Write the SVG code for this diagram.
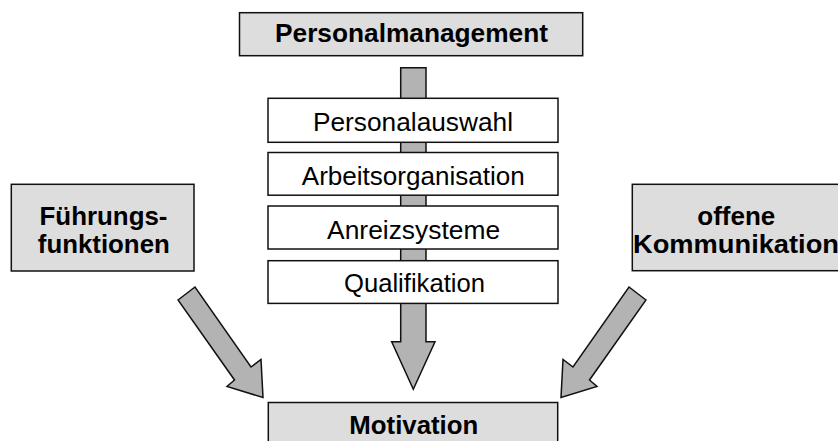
<svg xmlns="http://www.w3.org/2000/svg" width="838" height="441" viewBox="0 0 838 441">
<style>
.gbox{fill:#dddddd;stroke:#111;stroke-width:1.5}
.wbox{fill:#ffffff;stroke:#111;stroke-width:1.5}
.arr{fill:#b3b3b3;stroke:#111;stroke-width:1.5;stroke-linejoin:miter}
text{font-family:"Liberation Sans",Arial,sans-serif;font-size:25px;fill:#000;text-anchor:middle}
.b{font-weight:bold}
</style>
<rect width="838" height="441" fill="#fff"/>
<g id="connectors">
<polygon class="arr" points="400.7,67.7 426,67.7 426,341.7 435,341.7 413.3,389.3 391.7,341.7 400.7,341.7"/>
<polygon class="arr" points="178,300 195,287 251,367 261,359.5 263,397.5 227,386.5 234.5,380"/>
<polygon class="arr" points="646,300 629,287 573,367 563,359.5 561,397.5 597,386.5 589.5,380"/>
</g>
<g id="personalmanagement">
<rect class="gbox" x="239.5" y="12.7" width="343.2" height="43"/>
<text class="b" x="411.5" y="42" textLength="273" lengthAdjust="spacingAndGlyphs">Personalmanagement</text>
</g>
<g id="personalauswahl">
<rect class="wbox" x="268" y="98.3" width="290" height="44"/>
<text x="413" y="130.5" textLength="200" lengthAdjust="spacingAndGlyphs">Personalauswahl</text>
</g>
<g id="arbeitsorganisation">
<rect class="wbox" x="268" y="152.5" width="290" height="42.7"/>
<text x="413.3" y="184.5" textLength="223" lengthAdjust="spacingAndGlyphs">Arbeitsorganisation</text>
</g>
<g id="anreizsysteme">
<rect class="wbox" x="268" y="206" width="290" height="43"/>
<text x="413.6" y="238.5" textLength="173" lengthAdjust="spacingAndGlyphs">Anreizsysteme</text>
</g>
<g id="qualifikation">
<rect class="wbox" x="268" y="260.7" width="290" height="42.7"/>
<text x="414.5" y="292" textLength="141" lengthAdjust="spacingAndGlyphs">Qualifikation</text>
</g>
<g id="fuehrungsfunktionen">
<rect class="gbox" x="11.3" y="184.3" width="182.7" height="86.7"/>
<text class="b" x="103.5" y="225" textLength="128" lengthAdjust="spacingAndGlyphs">Führungs-</text>
<text class="b" x="103.8" y="252.5" textLength="132" lengthAdjust="spacingAndGlyphs">funktionen</text>
</g>
<g id="offene-kommunikation">
<rect class="gbox" x="632.3" y="184.3" width="210" height="86.4"/>
<text class="b" x="736.3" y="225" textLength="78" lengthAdjust="spacingAndGlyphs">offene</text>
<text class="b" x="736" y="252.5" textLength="206" lengthAdjust="spacingAndGlyphs">Kommunikation</text>
</g>
<g id="motivation">
<rect class="gbox" x="268.3" y="402.5" width="289.4" height="44"/>
<text class="b" x="413.8" y="433.5" textLength="129" lengthAdjust="spacingAndGlyphs">Motivation</text>
</g>
</svg>
